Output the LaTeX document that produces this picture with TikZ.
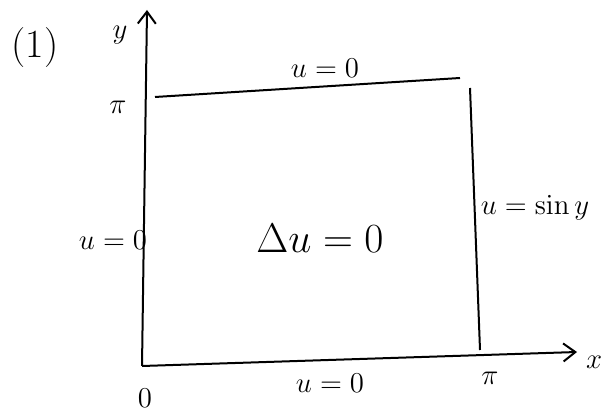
\documentclass[tikz,border=0pt]{standalone}
\usetikzlibrary{arrows.meta}
\begin{document}
\begin{tikzpicture}[x=0.5pt,y=-0.5pt,
  axis/.style={line width=1pt,-{Straight Barb[length=6pt,width=9pt]}},
  edge/.style={line width=1pt},
  lbl/.style={inner sep=0pt,font=\fontsize{15}{17}\selectfont},
  big/.style={inner sep=0pt,font=\fontsize{20}{22}\selectfont}]
\useasboundingbox (0,0) rectangle (603,410);
\coordinate (O) at (142,366);
\coordinate (ytip) at (147,10);
\coordinate (xtip) at (577,352);
\coordinate (TL) at (155,97);
\coordinate (TR) at (460,78);
\coordinate (RT) at (470,88);
\coordinate (RB) at (480,350);
\draw[axis] (O) -- (ytip);
\draw[axis] (O) -- (xtip);
\draw[edge] (TL) -- (TR);
\draw[edge] (RT) -- (RB);
\node[big] (num) at (35,48) {(1)};
\node[lbl] (ylab) at (120,35) {$y$};
\node[lbl] (xlab) at (594,362) {$x$};
\node[lbl] (pil) at (118,107) {$\pi$};
\node[lbl] (pib) at (490,378) {$\pi$};
\node[lbl] (olab) at (145,398) {$0$};
\node[lbl] (utop) at (325,68) {$u=0$};
\node[lbl] (uleft) at (113,240) {$u=0$};
\node[lbl] (ubot) at (330,383) {$u=0$};
\node[lbl] (uright) at (535,208) {$u=\sin y$};
\node[big] (lap) at (320,238) {$\Delta u=0$};
\end{tikzpicture}
\end{document}
